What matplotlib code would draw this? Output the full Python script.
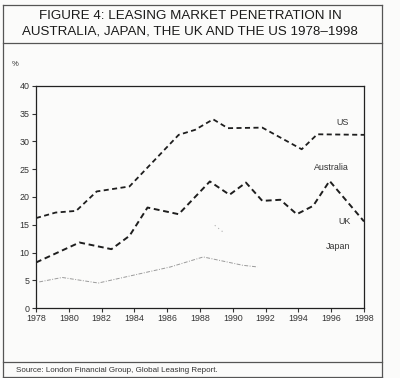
import matplotlib
matplotlib.use("Agg")
import matplotlib.pyplot as plt
from matplotlib.lines import Line2D

plt.rcParams["font.family"] = ["Liberation Sans", "DejaVu Sans"]

# ==========================================================
# Data
# ==========================================================

us_years = [1978.0, 1979.2, 1980.45, 1981.7, 1983.7, 1986.7, 1987.7,
            1988.8, 1989.7, 1991.8, 1994.2, 1995.15, 1998.0]
us_values = [16.2, 17.2, 17.5, 21.0, 21.9, 31.2, 32.1,
             34.0, 32.4, 32.5, 28.6, 31.3, 31.2]

uk_years = [1978.0, 1980.65, 1982.6, 1983.7, 1984.8, 1986.7, 1988.6,
            1989.8, 1990.8, 1991.8, 1992.9, 1993.9, 1994.9, 1995.9, 1998.0]
uk_values = [8.2, 11.8, 10.6, 13.0, 18.1, 16.9, 22.8,
             20.4, 22.6, 19.3, 19.5, 16.9, 18.4, 22.9, 15.6]

# only a faint fragment of the Australia line survives in the scan
aus_years = [1988.9, 1989.4]
aus_values = [14.9, 13.7]

japan_years = [1978.2, 1979.6, 1981.8, 1986.2, 1988.2, 1990.6, 1991.5]
japan_values = [4.7, 5.5, 4.5, 7.4, 9.2, 7.7, 7.4]

series_labels = ["US", "Australia", "UK", "Japan"]
label_x = [1996.7, 1996.0, 1996.8, 1996.4]
label_y = [33.5, 25.3, 15.5, 11.0]

x_ticks = list(range(1978, 1999, 2))
y_ticks = list(range(0, 41, 5))

title_lines = [
    "FIGURE 4: LEASING MARKET PENETRATION IN",
    "AUSTRALIA, JAPAN, THE UK AND THE US 1978\u20131998",
]
source_text = "Source: London Financial Group, Global Leasing Report."

# ==========================================================
# Figure
# ==========================================================

W, H = 400, 378
fig = plt.figure(figsize=(W / 100, H / 100), dpi=100, facecolor="#fbfbfa")


def fx(px):
    return px / W


def fy(py):
    return 1 - py / H


frame_color = "#555555"
for (x0, y0, x1, y1) in [
    (3, 5, 382, 5),
    (3, 5, 3, 377),
    (382, 5, 382, 377),
    (3, 43, 382, 43),
    (3, 362, 382, 362),
    (3, 377, 382, 377),
]:
    fig.add_artist(Line2D([fx(x0), fx(x1)], [fy(y0), fy(y1)],
                          transform=fig.transFigure, color=frame_color, lw=0.9))

fig.text(0.475, fy(16), title_lines[0], ha="center", va="center",
         fontsize=9.6, color="#1a1a1a")
fig.text(0.475, fy(32), title_lines[1], ha="center", va="center",
         fontsize=9.6, color="#1a1a1a")

fig.text(fx(16), fy(370), source_text, ha="left", va="center",
         fontsize=5.8, color="#333333")

ax = fig.add_axes([fx(36), fy(308), fx(364) - fx(36), fy(86) - fy(308)])
ax.set_facecolor("#fbfbfa")

ax.plot(us_years, us_values, color="#1e1e1e", lw=1.3,
        linestyle=(0, (2.8, 1.9)))
ax.plot(uk_years, uk_values, color="#1e1e1e", lw=1.4,
        linestyle=(0, (3.0, 1.9)))
ax.plot(aus_years, aus_values, color="#b0b0b0", lw=0.8,
        linestyle=(0, (1, 3)))
ax.plot(japan_years, japan_values, color="#9a9a9a", lw=0.7,
        linestyle=(0, (4, 1.5, 1, 1.5)))

for name, lx, ly in zip(series_labels, label_x, label_y):
    ax.text(lx, ly, name, ha="center", va="center", fontsize=6.4,
            color="#333333")

ax.set_xlim(1978, 1998)
ax.set_ylim(0, 40)
ax.set_xticks(x_ticks)
ax.set_yticks(y_ticks)
ax.tick_params(axis="both", labelsize=6.4, colors="#333333",
               length=3, width=0.8, direction="out", pad=1.5)
for spine in ax.spines.values():
    spine.set_color("#222222")
    spine.set_linewidth(0.9)

fig.text(fx(15), fy(64), "%", ha="center", va="center", fontsize=5.5,
         color="#333333")

fig.savefig("out.png", dpi=100, facecolor=fig.get_facecolor())
